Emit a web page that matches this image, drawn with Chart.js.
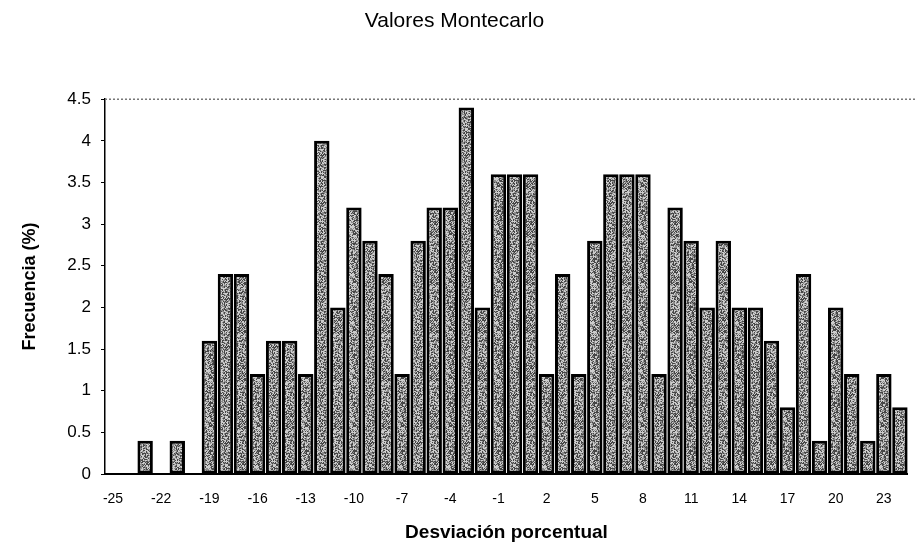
<!DOCTYPE html>
<html>
<head>
<meta charset="utf-8">
<title>Valores Montecarlo</title>
<script src="https://cdn.jsdelivr.net/npm/chart.js@4/dist/chart.umd.min.js"></script>
<style>
    html, body { margin: 0; padding: 0; background: #fff; }
    #wrap { width: 917px; height: 550px; }
</style>
</head>
<body>
<div id="wrap"><canvas id="histChart" width="917" height="550"></canvas></div>
<script>
// categorias del eje x (desviacion porcentual)
const desviaciones = [-25, -24, -23, -22, -21, -20, -19, -18, -17, -16,
                      -15, -14, -13, -12, -11, -10, -9, -8, -7, -6,
                      -5, -4, -3, -2, -1, 0, 1, 2, 3, 4,
                      5, 6, 7, 8, 9, 10, 11, 12, 13, 14,
                      15, 16, 17, 18, 19, 20, 21, 22, 23, 24];

// frecuencia (%) de cada categoria
const frecuencias = [0, 0, 0.4, 0, 0.4, 0, 1.6, 2.4, 2.4, 1.2,
                     1.6, 1.6, 1.2, 4.0, 2.0, 3.2, 2.8, 2.4, 1.2, 2.8,
                     3.2, 3.2, 4.4, 2.0, 3.6, 3.6, 3.6, 1.2, 2.4, 1.2,
                     2.8, 3.6, 3.6, 3.6, 1.2, 3.2, 2.8, 2.0, 2.8, 2.0,
                     2.0, 1.6, 0.8, 2.4, 0.4, 2.0, 1.2, 0.4, 1.2, 0.8];

// etiquetas visibles del eje x
const etiquetasX = [-25, -22, -19, -16, -13, -10, -7, -4, -1, 2, 5, 8, 11, 14, 17, 20, 23];

const fuente = "'Liberation Sans', Arial, sans-serif";
Chart.defaults.font.family = fuente;
Chart.defaults.color = '#000';

//===============================================================
// textura gris punteada para las barras
function crearTextura() {
    const c = document.createElement('canvas');
    c.width = 48;
    c.height = 48;
    const g = c.getContext('2d');
    const img = g.createImageData(48, 48);
    for (let y = 0; y < 48; y++) {
        for (let x = 0; x < 48; x++) {
            const h = ((x * 73856093) ^ (y * 19349663) ^ (x * y * 83492791)) >>> 0;
            const k = h % 100;
            let v = 205;
            if (k < 35) v = 70;
            else if (k < 65) v = 140;
            const i = (y * 48 + x) * 4;
            img.data[i] = v;
            img.data[i + 1] = v;
            img.data[i + 2] = v;
            img.data[i + 3] = 255;
        }
    }
    g.putImageData(img, 0, 0);
    return g.createPattern(c, 'repeat');
}

// linea punteada superior del area del grafico
const bordeSuperior = {
    id: 'bordeSuperior',
    afterDraw(chart) {
        const ctx = chart.ctx;
        const area = chart.chartArea;
        ctx.save();
        ctx.strokeStyle = '#777';
        ctx.lineWidth = 1.5;
        ctx.setLineDash([2, 2]);
        ctx.beginPath();
        ctx.moveTo(area.left, area.top);
        ctx.lineTo(915, area.top);
        ctx.stroke();
        ctx.restore();
    }
};

const ctx = document.getElementById('histChart').getContext('2d');
const histChart = new Chart(ctx, {
    type: 'bar',
    data: {
        labels: desviaciones.map(String),
        datasets: [{
            label: 'Frecuencia',
            data: frecuencias,
            backgroundColor: crearTextura(),
            borderColor: '#000',
            borderWidth: 3,
            borderSkipped: false,
            categoryPercentage: 1.0,
            barPercentage: 0.96
        }]
    },
    options: {
        responsive: false,
        animation: false,
        devicePixelRatio: 1,
        layout: { padding: { left: 0, right: 8, top: 0, bottom: 0 } },
        plugins: {
            legend: { display: false },
            tooltip: { enabled: false },
            title: {
                display: true,
                text: 'Valores Montecarlo',
                color: '#000',
                font: { size: 21, weight: 'normal' },
                padding: { top: 9, bottom: 65 }
            }
        },
        scales: {
            x: {
                grid: { display: true, drawOnChartArea: false, drawTicks: false },
                border: { display: true, color: '#000', width: 2 },
                ticks: {
                    autoSkip: false,
                    maxRotation: 0,
                    padding: 17,
                    font: { size: 14 },
                    color: '#000',
                    callback: function (val, i) {
                        return etiquetasX.includes(desviaciones[i]) ? String(desviaciones[i]) : '';
                    }
                },
                title: {
                    display: true,
                    text: 'Desviación porcentual',
                    color: '#000',
                    font: { size: 19, weight: 'bold' },
                    padding: { top: 0, bottom: 6 }
                },
                afterFit: function (scale) { scale.height = 76; }
            },
            y: {
                min: 0,
                max: 4.5,
                ticks: {
                    stepSize: 0.5,
                    padding: 10,
                    color: '#000',
                    font: { size: 17 },
                    callback: function (v) { return String(v); }
                },
                grid: { drawOnChartArea: false, drawTicks: true, tickLength: 4, color: '#000' },
                border: { display: true, color: '#000', width: 1.5 },
                title: {
                    display: true,
                    text: 'Frecuencia (%)',
                    color: '#000',
                    font: { size: 18, weight: 'bold' },
                    padding: { top: 19, bottom: 0 }
                },
                afterFit: function (scale) { scale.width = 105; }
            }
        }
    },
    plugins: [bordeSuperior]
});
</script>
</body>
</html>
